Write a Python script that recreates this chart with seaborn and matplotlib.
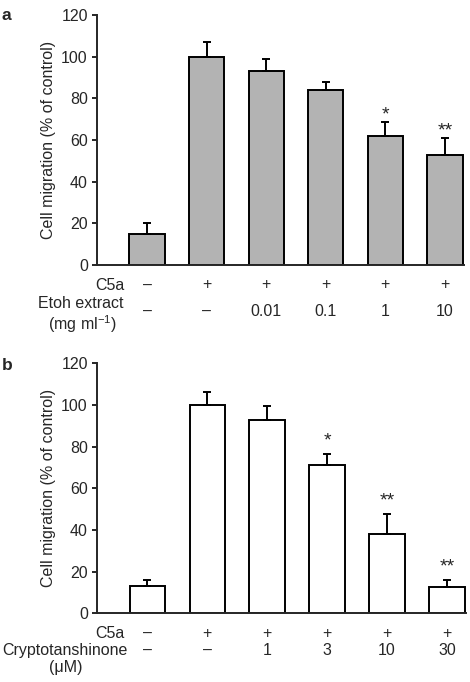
import numpy as np
import pandas as pd
import matplotlib
matplotlib.use("Agg")
import matplotlib.pyplot as plt
import matplotlib.transforms as mtransforms
import seaborn as sns

# ---------------- data ----------------
a_conditions = ["control", "C5a", "0.01", "0.1", "1", "10"]
a_values = [15, 100, 93, 84, 62, 53]
a_errors = [5, 7, 6, 4, 6.5, 8]
a_signif = ["", "", "", "", "*", "**"]
a_c5a = ["\u2013", "+", "+", "+", "+", "+"]
a_dose = ["\u2013", "\u2013", "0.01", "0.1", "1", "10"]

b_conditions = ["control", "C5a", "1", "3", "10", "30"]
b_values = [13, 100, 93, 71, 38, 12.5]
b_errors = [3, 6, 6.5, 5.3, 9.5, 3.5]
b_signif = ["", "", "", "*", "**", "**"]
b_c5a = ["\u2013", "+", "+", "+", "+", "+"]
b_dose = ["\u2013", "\u2013", "1", "3", "10", "30"]

y_ticks = [0, 20, 40, 60, 80, 100, 120]
y_label = "Cell migration (% of control)"

# ---------------- style ----------------
sns.set_style("ticks")
plt.rcParams["font.family"] = ["Liberation Sans", "DejaVu Sans"]
plt.rcParams["mathtext.fontset"] = "custom"
plt.rcParams["mathtext.rm"] = "Liberation Sans"
plt.rcParams["mathtext.it"] = "Liberation Sans:italic"
plt.rcParams["mathtext.bf"] = "Liberation Sans:bold"
FS = 11.5

fig = plt.figure(figsize=(4.70, 6.82), dpi=100)
ax_a = fig.add_axes([97 / 470, 1 - 265 / 682, 367 / 470, 250 / 682])
ax_b = fig.add_axes([97 / 470, 1 - 613.3 / 682, 369 / 470, 250 / 682])


def draw_panel(ax, conds, vals, errs, sig, c5a, dose, color, lab1, lab2,
               dose_val_y, lab1_x, lab1_y, lab2_x, lab2_y, star_off):
    df = pd.DataFrame({"cond": conds, "value": vals})
    sns.barplot(data=df, x="cond", y="value", order=conds, color=color,
                edgecolor="black", linewidth=1.4, width=0.59,
                errorbar=None, saturation=1, ax=ax)
    x = np.arange(len(conds))
    ax.errorbar(x, vals, yerr=[np.zeros(len(vals)), errs], fmt="none",
                ecolor="black", elinewidth=1.4, capsize=3, capthick=1.4,
                zorder=1)
    for i, s in enumerate(sig):
        if s:
            ax.annotate(s, xy=(i, vals[i] + errs[i]), xytext=(0, star_off),
                        textcoords="offset points", ha="center",
                        va="baseline", fontsize=14)
    ax.set_xlim(-0.84, 5.32)
    ax.set_ylim(0, 120)
    ax.set_yticks(y_ticks)
    ax.set_yticklabels([str(t) for t in y_ticks], fontsize=FS)
    ax.set_ylabel(y_label, fontsize=FS, labelpad=4)
    ax.set_xlabel("")
    ax.tick_params(axis="x", length=0, labelbottom=False)
    ax.tick_params(axis="y", length=3.6, width=1.4, pad=3.0)
    for side in ("top", "right"):
        ax.spines[side].set_visible(False)
    for side in ("left", "bottom"):
        ax.spines[side].set_linewidth(1.4)

    trans = mtransforms.blended_transform_factory(ax.transData, ax.transAxes)
    c5a_y = -0.08
    for i in range(len(conds)):
        ax.text(i, c5a_y, c5a[i], transform=trans, ha="center", va="center",
                fontsize=FS)
        ax.text(i, dose_val_y, dose[i], transform=trans, ha="center",
                va="center", fontsize=FS)
    lab_x = (124 - 97) / 367
    ax.text(lab_x, c5a_y, "C5a", transform=ax.transAxes, ha="right",
            va="center", fontsize=FS)
    ax.text(lab1_x, lab1_y, lab1, transform=ax.transAxes, ha="right",
            va="center", fontsize=FS)
    ax.text(lab2_x, lab2_y, lab2, transform=ax.transAxes, ha="center",
            va="center", fontsize=FS)
    return ax


draw_panel(ax_a, a_conditions, a_values, a_errors, a_signif, a_c5a, a_dose,
           "#b3b3b3", "Etoh extract", "(mg ml$^{-1}$)",
           -0.187, (124 - 97) / 367, -0.155, (82 - 97) / 367, -0.235, 2.0)
draw_panel(ax_b, b_conditions, b_values, b_errors, b_signif, b_c5a, b_dose,
           "white", "Cryptotanshinone", "(\u03bcM)",
           -0.147, (128 - 97) / 369, -0.147, (66 - 97) / 369, -0.216, 6.3)

fig.text(2 / 470, 1 - 15 / 682, "a", fontsize=12.5, fontweight="bold",
         ha="left", va="center")
fig.text(2 / 470, 1 - 366 / 682, "b", fontsize=12.5, fontweight="bold",
         ha="left", va="center")

fig.savefig("out.png", dpi=100)
